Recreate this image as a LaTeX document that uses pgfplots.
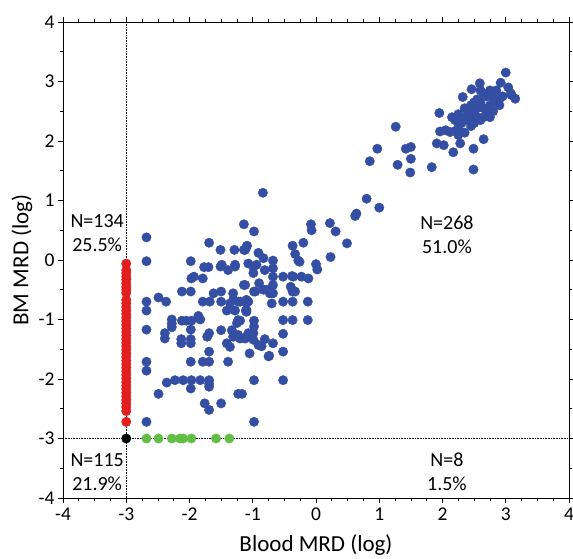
\documentclass[border=0pt]{standalone}
\usepackage{pgfplots}
\pgfplotsset{compat=1.18}
\usepackage{fontspec}
\setmainfont{Carlito}
\definecolor{cblue}{RGB}{52,78,164}
\definecolor{cred}{RGB}{226,30,30}
\definecolor{cgreen}{RGB}{100,190,70}
\begin{document}
\begin{tikzpicture}
\begin{axis}[
  scale only axis,
  width=506pt, height=476pt,
  xmin=-4, xmax=4, ymin=-4, ymax=4,
  xtick={-4,-3,...,4}, ytick={-4,-3,...,4},
  minor x tick num=3, minor y tick num=1,
  tick align=outside,
  major tick length=5pt, minor tick length=3pt,
  tick style={black, line width=0.7pt},
  axis line style={line width=0.9pt},
  /pgf/number format/assume math mode=true,
  ticklabel style={font=\fontsize{19.5}{23}\selectfont},
  xticklabel style={yshift=-1pt},
  label style={font=\fontsize{23}{27}\selectfont},
  xlabel={Blood MRD (log)}, ylabel={BM MRD (log)},
  xlabel style={at={(axis description cs:0.5,-0.099)}, anchor=center},
  ylabel style={at={(axis description cs:-0.081,0.5)}, anchor=center},
  clip=false,
]
\coordinate (SW) at (rel axis cs:0,0);
\coordinate (NE) at (rel axis cs:1,1);
\addplot[black, densely dotted, line width=0.6pt] coordinates {(-3,-4) (-3,4)};
\addplot[black, densely dotted, line width=0.6pt] coordinates {(-4,-3) (4,-3)};
% blue
\addplot[only marks, mark=*, mark size=4.7pt, color=cblue, mark options={draw=cblue, fill=cblue}] table {
x y
3.00 3.15
2.92 2.98
3.04 2.90
3.08 2.80
3.15 2.71
3.09 2.77
2.59 2.97
2.46 2.87
2.32 2.74
1.95 2.47
2.35 2.55
2.40 2.45
2.45 2.60
2.50 2.50
2.55 2.40
2.60 2.65
2.65 2.55
2.70 2.75
2.75 2.60
2.80 2.70
2.85 2.65
2.70 2.45
2.60 2.35
2.50 2.30
2.40 2.35
2.30 2.40
2.25 2.45
2.20 2.35
2.30 2.30
2.45 2.25
2.55 2.55
2.65 2.80
2.75 2.85
2.80 2.50
2.90 2.70
2.85 2.85
2.60 2.85
2.55 2.70
2.35 2.40
2.45 2.40
2.65 2.40
2.75 2.40
2.70 2.55
2.80 2.80
2.95 2.75
2.50 2.65
2.40 2.55
2.90 2.60
2.25 2.30
2.15 2.40
1.96 2.16
2.05 2.18
2.12 2.15
2.20 2.17
2.28 2.16
2.35 2.14
2.25 2.10
1.91 1.96
2.02 1.93
2.28 1.96
2.17 1.81
2.49 1.87
2.65 2.03
2.49 1.52
1.83 1.56
1.26 2.24
0.97 1.87
0.85 1.66
1.29 1.60
1.42 1.87
1.50 1.90
1.50 1.70
1.49 1.47
0.80 1.03
1.00 0.88
0.62 0.74
0.64 0.78
0.49 0.28
0.22 0.62
0.31 0.48
-0.08 0.60
-0.07 0.50
-0.37 0.24
-0.33 0.10
-0.28 -0.01
-0.20 0.29
0.23 0.05
0.00 -0.07
0.02 -0.16
-0.38 -0.27
-0.23 -0.28
-0.12 -0.31
-0.26 -0.03
-0.40 -0.45
-0.37 -0.53
-0.33 -0.53
-0.52 -0.70
-0.37 -0.70
-0.13 -0.70
-0.52 -1.01
-0.37 -1.01
-0.13 -1.01
-0.52 -1.24
-0.52 -1.54
-0.52 -2.02
-0.98 -2.02
-1.17 -2.25
-0.98 -2.72
-1.05 -1.57
-0.74 -1.61
-0.86 -1.45
-0.81 -1.33
-0.68 -1.40
-0.98 -1.02
-0.98 -1.12
-0.99 -1.23
-1.10 -1.29
-1.20 -1.32
-1.10 -0.87
-1.20 -0.70
-1.07 -0.70
-1.20 -1.02
-0.98 -0.53
-0.83 -0.50
-0.73 -0.56
-0.70 -0.73
-0.84 1.13
-1.14 0.60
-0.98 0.48
-1.10 0.22
-1.14 0.17
-0.91 0.12
-0.83 0.03
-1.07 -0.06
-0.99 -0.12
-0.99 -0.22
-0.68 -0.01
-0.68 -0.14
-0.68 -0.28
-0.68 -0.42
-0.68 -0.56
-0.81 -0.17
-1.14 -0.42
-0.90 -0.39
-0.96 -0.53
-0.78 -0.50
-2.68 0.38
-2.68 -0.02
-1.69 0.29
-1.51 0.17
-1.29 0.17
-1.12 0.17
-1.09 0.24
-1.98 -0.02
-1.77 -0.12
-1.70 -0.12
-1.51 -0.11
-1.39 -0.17
-1.28 -0.11
-1.97 -0.31
-1.93 -0.28
-1.79 -0.31
-1.12 -0.42
-2.12 -0.53
-1.98 -0.53
-1.62 -0.56
-1.50 -0.53
-1.31 -0.56
-2.49 -0.63
-2.37 -0.70
-2.68 -0.70
-2.68 -0.85
-1.79 -0.70
-1.68 -0.70
-1.50 -0.70
-1.36 -0.73
-1.23 -0.70
-1.12 -0.70
-1.41 -0.85
-1.28 -0.85
-1.11 -0.85
-2.28 -1.00
-2.28 -1.07
-2.28 -1.13
-2.12 -1.02
-2.05 -1.02
-1.97 -1.02
-1.86 -0.94
-1.83 -1.00
-2.68 -1.17
-2.39 -1.23
-2.39 -1.32
-1.98 -1.17
-2.13 -1.33
-1.98 -1.33
-2.13 -1.40
-1.98 -1.40
-1.69 -1.23
-1.72 -1.29
-1.50 -1.18
-1.33 -1.18
-1.25 -1.06
-1.23 -1.01
-1.31 -1.29
-1.23 -1.26
-1.12 -1.32
-1.07 -1.23
-1.41 -1.40
-1.36 -1.46
-1.69 -1.54
-2.68 -1.71
-2.68 -1.86
-1.98 -1.71
-1.79 -1.71
-1.69 -1.71
-1.39 -1.71
-2.36 -2.06
-2.23 -2.02
-2.10 -2.02
-1.97 -2.02
-1.83 -2.02
-1.69 -2.02
-1.98 -2.16
-1.69 -2.13
-1.69 -2.08
-2.49 -2.25
-1.23 -2.25
-1.76 -2.41
-1.69 -2.52
-1.50 -2.41
-2.68 -2.72
-0.99 -1.34
-0.91 -1.43
-0.75 -1.62
-1.10 -0.67
-1.10 -0.84
-1.31 -0.67
-0.52 -0.28
-0.36 -0.28
-0.36 -0.53
-1.49 -0.08
-1.28 -0.08
-0.94 -0.08
};
% red
\addplot[only marks, mark=*, mark size=4.7pt, color=cred, mark options={draw=cred, fill=cred}] table {
x y
-3 -0.06
-3 -0.17
-3 -0.22
-3 -0.28
-3 -0.33
-3 -0.39
-3 -0.45
-3 -0.50
-3 -0.55
-3 -0.67
-3 -0.73
-3 -0.79
-3 -0.85
-3 -0.91
-3 -0.97
-3 -1.03
-3 -1.09
-3 -1.15
-3 -1.21
-3 -1.27
-3 -1.33
-3 -1.39
-3 -1.45
-3 -1.51
-3 -1.57
-3 -1.63
-3 -1.69
-3 -1.75
-3 -1.81
-3 -1.87
-3 -1.93
-3 -1.99
-3 -2.05
-3 -2.11
-3 -2.17
-3 -2.23
-3 -2.29
-3 -2.35
-3 -2.41
-3 -2.47
-3 -2.54
-3 -2.72
};
% green
\addplot[only marks, mark=*, mark size=4.7pt, color=cgreen, mark options={draw=cgreen, fill=cgreen}] table {
x y
-2.68 -3
-2.49 -3
-2.28 -3
-2.15 -3
-2.10 -3
-1.97 -3
-1.58 -3
-1.37 -3
};
% black
\addplot[only marks, mark=*, mark size=4.7pt, color=black] coordinates {(-3,-3)};
\node[align=center, font=\fontsize{20}{24}\selectfont] at (axis cs:-3.46,0.45) {N=134\\25.5\%};
\node[align=center, font=\fontsize{20}{24}\selectfont] at (axis cs:2.07,0.43) {N=268\\51.0\%};
\node[align=center, font=\fontsize{20}{24}\selectfont] at (axis cs:-3.46,-3.57) {N=115\\21.9\%};
\node[align=center, font=\fontsize{20}{24}\selectfont] at (axis cs:2.07,-3.56) {N=8\\1.5\%};
\end{axis}
\pgfresetboundingbox
\path[use as bounding box] ([shift={(-63pt,-61pt)}]SW) rectangle ([shift={(4pt,22pt)}]NE);
\end{tikzpicture}
\end{document}
